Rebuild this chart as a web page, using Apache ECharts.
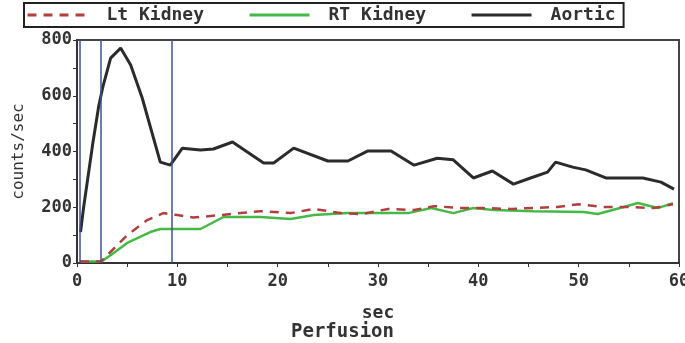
<!DOCTYPE html>
<html>
<head>
<meta charset="utf-8">
<script src="https://cdn.jsdelivr.net/npm/echarts@6/dist/echarts.min.js"></script>
<style>
  html, body { margin: 0; padding: 0; background: #fff; }
  #chart { width: 685px; height: 343px; }
</style>
</head>
<body>
<div id="chart"></div>
<script>
// time (sec) / counts per sec
const aorticData = [
  [0.35, 111], [0.65, 197], [1.55, 423], [2.15, 560], [2.55, 628], [3.35, 735],
  [4.35, 771], [5.35, 710], [6.5, 592], [8.3, 362], [9.3, 351], [10.5, 412],
  [12.3, 405], [13.6, 409], [15.5, 434], [18.6, 359], [19.6, 359], [21.6, 412],
  [25.0, 366], [27.0, 366], [29.0, 402], [31.3, 402], [33.6, 351], [35.9, 376],
  [37.5, 370], [39.5, 305], [41.4, 330], [43.5, 283], [45.2, 305], [46.9, 326],
  [47.7, 362], [49.4, 344], [50.7, 334], [52.7, 305], [56.4, 305], [58.2, 290],
  [59.5, 265]
];
const rtKidneyData = [
  [0.3, 5], [2.4, 5], [3.35, 28], [5.0, 72], [7.3, 111], [8.3, 122], [12.3, 122],
  [14.6, 165], [18.3, 165], [21.3, 158], [23.6, 172], [27.0, 179], [33.0, 179],
  [35.3, 197], [37.5, 179], [39.5, 197], [41.5, 190], [45.5, 186], [50.5, 183],
  [51.9, 176], [54.5, 201], [55.9, 215], [57.9, 197], [59.4, 215]
];
const ltKidneyData = [
  [0.3, 5], [2.4, 5], [2.85, 22], [5.0, 100], [7.0, 154], [8.6, 179], [10.0, 172],
  [11.6, 163], [14.3, 172], [18.3, 186], [21.3, 179], [23.6, 194], [26.3, 179],
  [28.3, 175], [31.0, 194], [33.6, 190], [35.6, 204], [38.2, 197], [40.5, 197],
  [43.2, 194], [47.9, 201], [50.0, 211], [52.5, 201], [55.2, 201], [57.5, 197],
  [59.4, 211]
];
const markerTimes = [0.3, 2.4, 9.4];
const xTicks = [0, 60, 10];
const yTicks = [0, 800, 200];

const mono = "DejaVu Sans Mono";
const chart = echarts.init(document.getElementById("chart"));

chart.setOption({
  backgroundColor: "#ffffff",
  animation: false,
  title: {
    text: "Perfusion",
    left: "center",
    top: 318,
    textStyle: { fontFamily: mono, fontSize: 19, fontWeight: "bold", color: "#333" }
  },
  legend: {
    left: 24,
    top: 3,
    itemWidth: 60,
    itemHeight: 14,
    itemGap: 44,
    padding: [3, 8, 3, 2],
    borderColor: "#222",
    borderWidth: 2,
    itemStyle: { opacity: 0 },
    lineStyle: { width: 3 },
    textStyle: {
      fontFamily: mono, fontSize: 18, fontWeight: "bold", color: "#333",
      padding: [0, 0, 0, 14]
    },
    data: ["Lt Kidney", "RT Kidney", "Aortic"]
  },
  grid: {
    left: 77,
    right: 6,
    top: 40,
    bottom: 80,
    outerBoundsMode: "none",
    show: true,
    borderColor: "#444",
    borderWidth: 2
  },
  xAxis: {
    type: "value",
    min: xTicks[0],
    max: xTicks[1],
    interval: xTicks[2],
    name: "sec",
    nameLocation: "middle",
    nameGap: 41,
    nameTextStyle: { fontFamily: mono, fontSize: 18, fontWeight: "bold", color: "#333" },
    axisLine: { lineStyle: { color: "#333", width: 2 } },
    axisTick: { show: true, length: 4, lineStyle: { color: "#333" } },
    minorTick: { show: true, splitNumber: 2, length: 4, lineStyle: { color: "#333" } },
    splitLine: { show: false },
    axisLabel: { margin: 10, fontFamily: mono, fontSize: 17, fontWeight: "bold", color: "#333" }
  },
  yAxis: {
    type: "value",
    min: yTicks[0],
    max: yTicks[1],
    interval: yTicks[2],
    name: "counts/sec",
    nameLocation: "middle",
    nameGap: 50,
    nameTextStyle: { fontFamily: mono, fontSize: 16, color: "#333" },
    axisLine: { show: true, lineStyle: { color: "#333", width: 2 } },
    axisTick: { show: true, length: 4, lineStyle: { color: "#333" } },
    minorTick: { show: true, splitNumber: 2, length: 4, lineStyle: { color: "#333" } },
    splitLine: { show: false },
    axisLabel: { margin: 5, fontFamily: mono, fontSize: 17, fontWeight: "bold", color: "#333" }
  },
  series: [
    {
      name: "Lt Kidney",
      type: "line",
      data: ltKidneyData,
      showSymbol: false,
      symbol: "none",
      lineStyle: { color: "#b04040", width: 2.5, type: [9, 7] },
      itemStyle: { color: "#b04040" },
      z: 3
    },
    {
      name: "RT Kidney",
      type: "line",
      data: rtKidneyData,
      showSymbol: false,
      symbol: "none",
      lineStyle: { color: "#45b845", width: 2.5 },
      itemStyle: { color: "#45b845" },
      z: 2
    },
    {
      name: "Aortic",
      type: "line",
      data: aorticData,
      showSymbol: false,
      symbol: "none",
      lineStyle: { color: "#2b2b2b", width: 3 },
      itemStyle: { color: "#2b2b2b" },
      z: 4,
      markLine: {
        silent: true,
        symbol: "none",
        label: { show: false },
        lineStyle: { color: "#3f5196", width: 1.5, type: "solid" },
        data: markerTimes.map((t) => ({ xAxis: t }))
      }
    }
  ]
});
</script>
</body>
</html>
